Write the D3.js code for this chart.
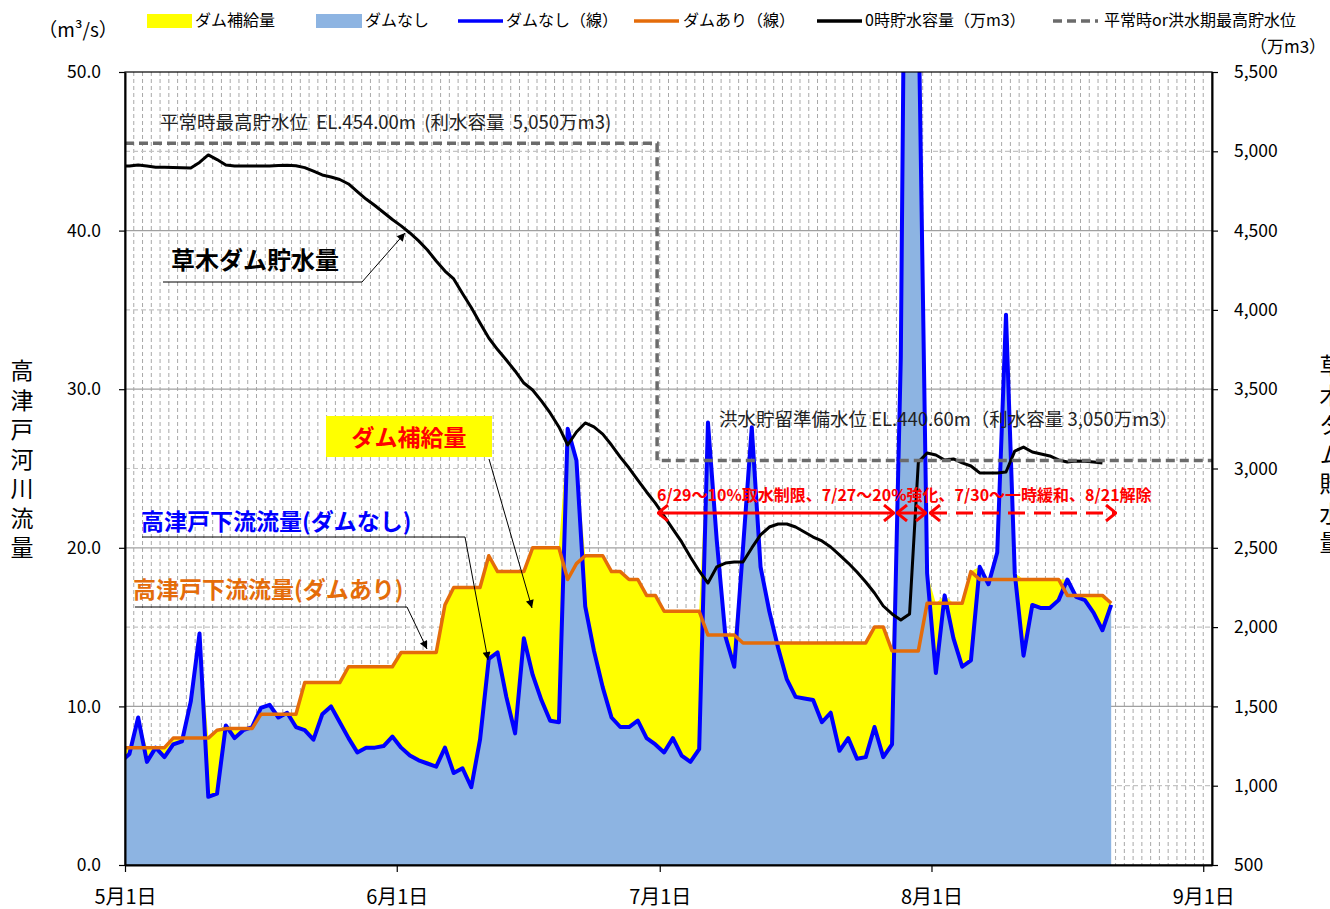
<!DOCTYPE html>
<html>
<head>
<meta charset="utf-8">
<title>草木ダム 貯水量と高津戸流量</title>
<script src="https://cdn.jsdelivr.net/npm/d3@7"></script>
<style>
  body { margin: 0; background: #fff; }
  svg { display: block; font-family: "Noto Sans CJK JP", "Noto Sans", sans-serif; }
</style>
</head>
<body>
<svg id="chart" width="1330" height="909"></svg>
<script>
// ---- data ----
// day offsets from 5/1, first value is 4/30
var firstDay = -1;
var monthTicks = [0, 31, 61, 92, 123];
var monthLabels = ["5月1日", "6月1日", "7月1日", "8月1日", "9月1日"];
var flowTicks = [0, 10, 20, 30, 40, 50];
var storageTicks = [500, 1000, 1500, 2000, 2500, 3000, 3500, 4000, 4500, 5000, 5500];

// 高津戸下流流量 ダムなし (m3/s), 4/30 .. 8/21
var noDam = [6.5,
  7.0, 9.3, 6.5, 7.4, 6.8, 7.6, 7.8, 10.3, 14.6, 4.3,
  4.5, 8.8, 8.0, 8.5, 8.7, 9.9, 10.1, 9.3, 9.6, 8.7,
  8.5, 7.9, 9.5, 10.0, 9.0, 8.0, 7.1, 7.4, 7.4, 7.5,
  8.1, 7.4, 6.9, 6.6, 6.4, 6.2, 7.4, 5.8, 6.1, 4.9,
  7.9, 13.0, 13.4, 10.6, 8.3, 14.3, 12.0, 10.4, 9.1, 9.0,
  27.5, 25.5, 16.3, 13.5, 11.2, 9.3, 8.7, 8.7, 9.1, 8.0,
  7.6, 7.1, 8.0, 6.9, 6.5, 7.3, 27.9, 20.5, 14.4, 12.5,
  20.0, 27.6, 18.8, 16.0, 13.7, 11.7, 10.6, 10.5, 10.4, 9.0,
  9.6, 7.2, 8.0, 6.7, 6.8, 8.7, 6.8, 7.6, 32.0, 95.0,
  55.0, 18.4, 12.1, 17.0, 14.3, 12.5, 12.9, 18.8, 17.7, 19.7,
  34.7, 18.4, 13.2, 16.4, 16.2, 16.2, 16.7, 18.0, 16.9, 16.7,
  15.9, 14.8, 16.4];

// 高津戸下流流量 ダムあり (m3/s), 4/30 .. 8/21
var withDam = [7.4,
  7.4, 7.4, 7.4, 7.4, 7.4, 8.0, 8.0, 8.0, 8.0, 8.0,
  8.5, 8.6, 8.6, 8.6, 8.6, 9.5, 9.5, 9.5, 9.5, 9.5,
  11.5, 11.5, 11.5, 11.5, 11.5, 12.5, 12.5, 12.5, 12.5, 12.5,
  12.5, 13.4, 13.4, 13.4, 13.4, 13.4, 16.4, 17.5, 17.5, 17.5,
  17.5, 19.5, 18.5, 18.5, 18.5, 18.5, 20.0, 20.0, 20.0, 20.0,
  18.0, 19.0, 19.5, 19.5, 19.5, 18.5, 18.5, 18.0, 18.0, 17.0,
  17.0, 16.0, 16.0, 16.0, 16.0, 16.0, 14.5, 14.5, 14.5, 14.5,
  14.0, 14.0, 14.0, 14.0, 14.0, 14.0, 14.0, 14.0, 14.0, 14.0,
  14.0, 14.0, 14.0, 14.0, 14.0, 15.0, 15.0, 13.5, 13.5, 13.5,
  13.5, 16.5, 16.5, 16.5, 16.5, 16.5, 18.5, 18.0, 18.0, 18.0,
  18.0, 18.0, 18.0, 18.0, 18.0, 18.0, 18.0, 17.0, 17.0, 17.0,
  17.0, 17.0, 16.5];

// 0時貯水容量 (万m3), 4/30 .. 8/20
var storage = [4907,
  4907, 4914, 4907, 4900, 4899, 4898, 4896, 4895, 4930, 4977,
  4948, 4914, 4907, 4907, 4907, 4907, 4907, 4910, 4912, 4909,
  4897, 4875, 4851, 4838, 4822, 4794, 4746, 4699, 4658, 4614,
  4570, 4530, 4485, 4435, 4378, 4308, 4245, 4195, 4103, 4015,
  3917, 3823, 3750, 3684, 3615, 3539, 3495, 3426, 3350, 3262,
  3148, 3230, 3287, 3262, 3217, 3148, 3072, 3003, 2927, 2852,
  2782, 2700, 2618, 2537, 2442, 2354, 2278, 2379, 2404, 2410,
  2410, 2499, 2581, 2631, 2650, 2650, 2631, 2600, 2568, 2543,
  2505, 2455, 2404, 2347, 2284, 2215, 2133, 2083, 2045, 2083,
  3040, 3098, 3085, 3054, 3060, 3035, 3016, 2972, 2972, 2972,
  2978, 3110, 3135, 3104, 3091, 3079, 3054, 3041, 3047, 3045,
  3041, 3035];

// 平常時 / 洪水期 最高貯水位 (万m3)
var levelDays = [0, 60.7, 60.7, 124];
var levelValues = [5050, 5050, 3050, 3050];

var legendLabels = ["ダム補給量", "ダムなし", "ダムなし（線）", "ダムあり（線）", "0時貯水容量（万m3）", "平常時or洪水期最高貯水位"];

// ---- chart ----
var svg = d3.select("#chart");
var m = {left: 125, right: 1212, top: 72, bottom: 865};

var x = d3.scaleLinear().domain([0, 124]).range([m.left, m.right]);
var yL = d3.scaleLinear().domain([0, 50]).range([m.bottom, m.top]);
var yR = d3.scaleLinear().domain([500, 5500]).range([m.bottom, m.top]);

function dayX(i){ return x(firstDay + i + 0.5); }

svg.append("defs").append("clipPath").attr("id", "plotclip")
  .append("rect").attr("x", m.left).attr("y", m.top)
  .attr("width", m.right - m.left).attr("height", m.bottom - m.top);

var defs = svg.select("defs");
defs.append("marker").attr("id", "blackhead")
  .attr("viewBox", "0 0 10 10").attr("refX", 10).attr("refY", 5)
  .attr("markerWidth", 11).attr("markerHeight", 8).attr("markerUnits", "userSpaceOnUse")
  .attr("orient", "auto")
  .append("path").attr("d", "M0,0 L10,5 L0,10 z").attr("fill", "#000");
defs.append("marker").attr("id", "redhead")
  .attr("viewBox", "0 0 12 18").attr("refX", 11).attr("refY", 9)
  .attr("markerWidth", 12).attr("markerHeight", 18).attr("markerUnits", "userSpaceOnUse")
  .attr("orient", "auto-start-reverse")
  .append("path").attr("d", "M1,1 L11,9 L1,17").attr("fill", "none")
  .attr("stroke", "#ff0000").attr("stroke-width", 3);

// gridlines
var grid = svg.append("g");
grid.selectAll(".vg").data(d3.range(1, 124)).enter().append("line")
  .attr("x1", function(d){ return x(d); }).attr("x2", function(d){ return x(d); })
  .attr("y1", m.top).attr("y2", m.bottom)
  .attr("stroke", "#a8a8a8").attr("stroke-width", 1).attr("stroke-dasharray", "4,3");
grid.selectAll(".hminor").data([5, 15, 25, 35, 45]).enter().append("line")
  .attr("x1", m.left).attr("x2", m.right)
  .attr("y1", function(d){ return yL(d); }).attr("y2", function(d){ return yL(d); })
  .attr("stroke", "#c4c4c4").attr("stroke-width", 1.2).attr("stroke-dasharray", "5,3");
grid.selectAll(".hmajor").data([10, 20, 30, 40]).enter().append("line")
  .attr("x1", m.left).attr("x2", m.right)
  .attr("y1", function(d){ return yL(d); }).attr("y2", function(d){ return yL(d); })
  .attr("stroke", "#a0a0a0").attr("stroke-width", 1.3);

var plot = svg.append("g").attr("clip-path", "url(#plotclip)");

// areas
plot.append("path").datum(noDam)
  .attr("fill", "#8db4e2")
  .attr("d", d3.area().x(function(d, i){ return dayX(i); }).y0(yL(0)).y1(function(d){ return yL(d); }));

plot.append("path").datum(noDam)
  .attr("fill", "#ffff00")
  .attr("d", d3.area().x(function(d, i){ return dayX(i); })
    .y0(function(d){ return yL(d); })
    .y1(function(d, i){ return yL(Math.max(d, withDam[i])); }));

// lines
plot.append("path").datum(noDam)
  .attr("fill", "none").attr("stroke", "#0000ff").attr("stroke-width", 4).attr("stroke-linejoin", "round")
  .attr("d", d3.line().x(function(d, i){ return dayX(i); }).y(function(d){ return yL(d); }));

plot.append("path").datum(withDam)
  .attr("fill", "none").attr("stroke", "#e46c0a").attr("stroke-width", 3.5).attr("stroke-linejoin", "round")
  .attr("d", d3.line().x(function(d, i){ return dayX(i); }).y(function(d){ return yL(d); }));

plot.append("path").datum(storage)
  .attr("fill", "none").attr("stroke", "#000").attr("stroke-width", 3).attr("stroke-linejoin", "round")
  .attr("d", d3.line().x(function(d, i){ return dayX(i); }).y(function(d){ return yR(d); }));

plot.append("path").datum(levelDays)
  .attr("fill", "none").attr("stroke", "#6b6b6b").attr("stroke-width", 3.5).attr("stroke-dasharray", "9,5")
  .attr("d", d3.line().x(function(d){ return x(d); }).y(function(d, i){ return yR(levelValues[i]); }));

// frame
svg.append("rect").attr("x", m.left).attr("y", m.top)
  .attr("width", m.right - m.left).attr("height", m.bottom - m.top)
  .attr("fill", "none").attr("stroke", "#000").attr("stroke-width", 1.2);

// axes
var axL = svg.append("g").attr("transform", "translate(" + m.left + ",0)")
  .call(d3.axisLeft(yL).tickValues(flowTicks).tickFormat(d3.format(".1f")).tickSizeInner(6).tickSizeOuter(0).tickPadding(18));
var axR = svg.append("g").attr("transform", "translate(" + m.right + ",0)")
  .call(d3.axisRight(yR).tickValues(storageTicks).tickFormat(d3.format(",")).tickSizeInner(6).tickSizeOuter(0).tickPadding(16));
var axB = svg.append("g").attr("transform", "translate(0," + m.bottom + ")")
  .call(d3.axisBottom(x).tickValues(monthTicks).tickFormat(function(d, i){ return monthLabels[i]; }).tickSizeInner(7).tickSizeOuter(0).tickPadding(18));

[axL, axR, axB].forEach(function(a){
  a.select(".domain").attr("stroke", "#000").attr("stroke-width", 2);
  a.selectAll(".tick line").attr("stroke", "#000").attr("stroke-width", 1.2);
  a.selectAll(".tick text").attr("fill", "#000")
    .style("font-family", "'Noto Sans CJK JP', sans-serif").style("font-size", "17.5px");
});
axB.selectAll(".tick text").style("font-size", "20px");

// unit labels
svg.append("text").attr("x", 78).attr("y", 37).attr("text-anchor", "middle")
  .style("font-size", "19px").text("（m³/s）");
svg.append("text").attr("x", 1288).attr("y", 53).attr("text-anchor", "middle")
  .style("font-size", "17px").text("（万m3）");

// axis titles (vertical)
function vtitle(str, cx, y0){
  svg.append("text").attr("x", cx).attr("y", y0)
    .style("writing-mode", "vertical-rl").style("letter-spacing", "6.5px")
    .style("font-size", "23px").text(str);
}
vtitle("高津戸河川流量", 22, 359);
vtitle("草木ダム貯水量", 1331, 354);

// legend
var lg = svg.append("g").style("font-size", "16px");
lg.append("rect").attr("x", 147).attr("y", 14).attr("width", 45).attr("height", 14).attr("fill", "#ffff00");
lg.append("text").attr("x", 195).attr("y", 26).text(legendLabels[0]);
lg.append("rect").attr("x", 316).attr("y", 14).attr("width", 46).attr("height", 14).attr("fill", "#8db4e2");
lg.append("text").attr("x", 365).attr("y", 26).text(legendLabels[1]);
lg.append("line").attr("x1", 458).attr("x2", 503).attr("y1", 21).attr("y2", 21).attr("stroke", "#0000ff").attr("stroke-width", 3.5);
lg.append("text").attr("x", 506).attr("y", 26).text(legendLabels[2]);
lg.append("line").attr("x1", 634).attr("x2", 679).attr("y1", 21).attr("y2", 21).attr("stroke", "#e46c0a").attr("stroke-width", 3.5);
lg.append("text").attr("x", 683).attr("y", 26).text(legendLabels[3]);
lg.append("line").attr("x1", 817).attr("x2", 862).attr("y1", 21).attr("y2", 21).attr("stroke", "#000").attr("stroke-width", 3.5);
lg.append("text").attr("x", 865).attr("y", 26).text(legendLabels[4]);
lg.append("line").attr("x1", 1053).attr("x2", 1098).attr("y1", 21).attr("y2", 21).attr("stroke", "#6b6b6b").attr("stroke-width", 3.5).attr("stroke-dasharray", "9,5");
lg.append("text").attr("x", 1104).attr("y", 26).text(legendLabels[5]);

// annotations
var an = svg.append("g");
an.append("text").attr("x", 160).attr("y", 129).style("font-size", "18.5px").style("white-space", "pre").attr("fill", "#222")
  .text("平常時最高貯水位  EL.454.00m  (利水容量  5,050万m3)");
an.append("text").attr("x", 719).attr("y", 426).style("font-size", "18.5px").attr("fill", "#222")
  .text("洪水貯留準備水位 EL.440.60m（利水容量 3,050万m3）");

an.append("text").attr("x", 171).attr("y", 269).style("font-size", "24px").style("font-weight", "bold")
  .text("草木ダム貯水量");
an.append("path").attr("d", "M163,282 L362,282 L405,233").attr("fill", "none")
  .attr("stroke", "#000").attr("stroke-width", 1).attr("marker-end", "url(#blackhead)");

an.append("rect").attr("x", 326).attr("y", 416).attr("width", 166).attr("height", 41).attr("fill", "#ffff00");
an.append("text").attr("x", 409).attr("y", 446).attr("text-anchor", "middle")
  .style("font-size", "23px").style("font-weight", "bold").attr("fill", "#ff0000").text("ダム補給量");
an.append("path").attr("d", "M489,459 L532,608").attr("fill", "none")
  .attr("stroke", "#000").attr("stroke-width", 1).attr("marker-end", "url(#blackhead)");

an.append("text").attr("x", 141).attr("y", 530).style("font-size", "23px").style("font-weight", "bold")
  .attr("fill", "#0000ff").text("高津戸下流流量(ダムなし)");
an.append("path").attr("d", "M142,537 L465,537 L488,660").attr("fill", "none")
  .attr("stroke", "#000").attr("stroke-width", 1).attr("marker-end", "url(#blackhead)");

an.append("text").attr("x", 133).attr("y", 598).style("font-size", "23px").style("font-weight", "bold")
  .attr("fill", "#e46c0a").text("高津戸下流流量(ダムあり)");
an.append("path").attr("d", "M135,607 L407,607 L427,649").attr("fill", "none")
  .attr("stroke", "#000").attr("stroke-width", 1).attr("marker-end", "url(#blackhead)");

an.append("text").attr("x", 657).attr("y", 501).style("font-size", "16px").style("font-weight", "bold")
  .attr("fill", "#ff0000").text("6/29～10%取水制限、7/27～20%強化、7/30～一時緩和、8/21解除");
function redArrow(x1, x2, dashed){
  var p = an.append("line").attr("x1", x1).attr("x2", x2).attr("y1", 513).attr("y2", 513)
    .attr("stroke", "#ff0000").attr("stroke-width", 3)
    .attr("marker-start", "url(#redhead)").attr("marker-end", "url(#redhead)");
  if (dashed) p.attr("stroke-dasharray", "17,9");
}
redArrow(658, 894, false);
redArrow(897, 926, false);
redArrow(930, 1116, true);
</script>
</body>
</html>
